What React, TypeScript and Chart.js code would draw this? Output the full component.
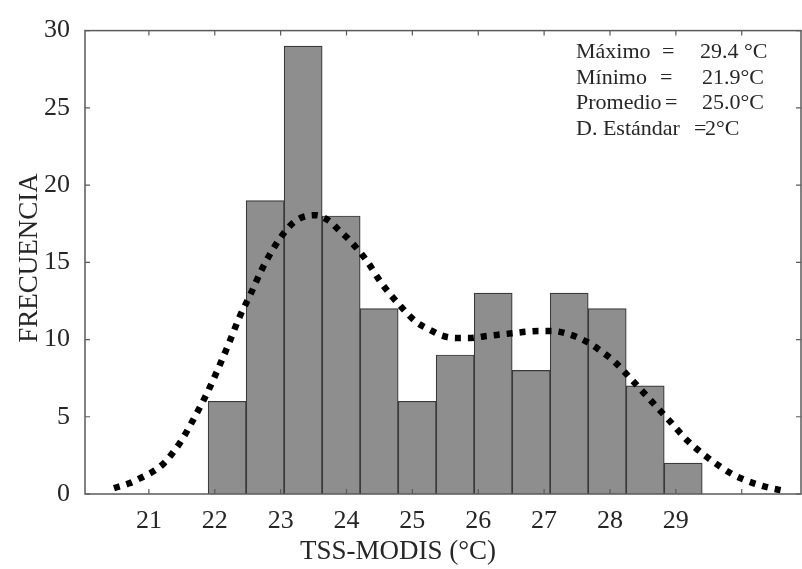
import React, { useEffect, useRef } from "react";
import { Chart, registerables } from "chart.js";

Chart.register(...registerables);

// Histogram bins (°C) and counts
const binCenters = [22.188, 22.765, 23.342, 23.919, 24.496, 25.073, 25.65, 26.227, 26.804, 27.381, 27.958, 28.535, 29.112];
const frequencies = [6, 19, 29, 18, 12, 6, 9, 13, 8, 13, 12, 7, 2];

// Fitted density curve
const curveX = [20.47, 20.7, 20.89, 21.08, 21.23, 21.38, 21.5, 21.71, 21.88, 22.06, 22.21, 22.37, 22.55, 22.71, 22.92, 23.15, 23.32, 23.53, 23.73, 23.88, 24.03, 24.29, 24.54, 24.79, 25.07, 25.28, 25.45, 25.67, 25.89, 26.08, 26.28, 26.51, 26.72, 26.92, 27.12, 27.33, 27.53, 27.71, 27.88, 28.06, 28.33, 28.63, 28.89, 29.19, 29.5, 29.85, 30.03, 30.23, 30.44, 30.59];
const curveY = [0.38, 0.69, 1.07, 1.5, 2.0, 2.77, 3.5, 5.1, 6.5, 8.2, 9.7, 11.4, 13.0, 14.5, 16.1, 17.4, 17.9, 18.05, 17.7, 17.1, 16.5, 15.2, 13.6, 12.3, 11.1, 10.6, 10.25, 10.1, 10.1, 10.2, 10.3, 10.4, 10.5, 10.55, 10.55, 10.4, 10.1, 9.7, 9.2, 8.6, 7.4, 6.0, 4.8, 3.4, 2.3, 1.3, 0.94, 0.63, 0.38, 0.25];

const xTickValues = [21, 22, 23, 24, 25, 26, 27, 28, 29];
const xInnerTicks = [21, 22, 23, 24, 25, 26, 27, 28, 29, 30];
const yTickValues = [0, 5, 10, 15, 20, 25, 30];

const statLabels = ["Máximo", "Mínimo", "Promedio", "D. Estándar"];
const statEquals = ["=", "=", "=", "="];
const statValues = ["29.4 °C", "21.9°C", "25.0°C", "2°C"];

const xTitle = "TSS-MODIS (°C)";
const yTitle = "FRECUENCIA";

const FONT = "'Liberation Serif', 'Times New Roman', serif";
const TEXT = "#262626";

const framePlugin = {
  id: "frame",
  afterDraw(chart: any) {
    const { ctx, chartArea } = chart;
    const { left, right, top, bottom } = chartArea;
    const xs = chart.scales.x;
    const ys = chart.scales.y;
    ctx.save();
    ctx.strokeStyle = "#5a5a5a";
    ctx.lineWidth = 1.5;
    ctx.strokeRect(left, top, right - left, bottom - top);
    ctx.lineWidth = 1.2;
    ctx.beginPath();
    xInnerTicks.forEach((v) => {
      const px = xs.getPixelForValue(v);
      ctx.moveTo(px, bottom);
      ctx.lineTo(px, bottom - 5);
      ctx.moveTo(px, top);
      ctx.lineTo(px, top + 5);
    });
    yTickValues.forEach((v) => {
      const py = ys.getPixelForValue(v);
      ctx.moveTo(left, py);
      ctx.lineTo(left + 5, py);
      ctx.moveTo(right, py);
      ctx.lineTo(right - 5, py);
    });
    ctx.stroke();

    // axis titles
    ctx.fillStyle = TEXT;
    ctx.font = `27px ${FONT}`;
    ctx.textAlign = "center";
    ctx.textBaseline = "alphabetic";
    ctx.fillText(xTitle, 398, 559);
    ctx.save();
    ctx.translate(37, 258);
    ctx.rotate(-Math.PI / 2);
    ctx.fillText(yTitle, 0, 0);
    ctx.restore();

    // statistics box
    ctx.font = `22px ${FONT}`;
    ctx.textAlign = "left";
    const baselines = [58, 84, 109, 135];
    const eqX = [662, 660, 665, 694];
    const valX = [700, 702, 702, 705];
    statLabels.forEach((lab, i) => {
      ctx.fillText(lab, 576, baselines[i]);
      ctx.fillText(statEquals[i], eqX[i], baselines[i]);
      ctx.fillText(statValues[i], valX[i], baselines[i]);
    });
    ctx.restore();
  },
};

export default function App() {
  const ref = useRef<HTMLCanvasElement | null>(null);
  useEffect(() => {
    if (!ref.current) return;
    const chart = new Chart(ref.current, {
      type: "bar",
      data: {
        datasets: [
          {
            type: "line",
            data: curveX.map((x, i) => ({ x, y: curveY[i] })),
            borderColor: "#000",
            borderWidth: 6.5,
            borderDash: [6, 7],
            borderCapStyle: "butt",
            pointRadius: 0,
            fill: false,
            cubicInterpolationMode: "monotone",
            order: 0,
          } as any,
          {
            type: "bar",
            data: binCenters.map((x, i) => ({ x, y: frequencies[i] })),
            backgroundColor: "#8e8e8e",
            borderColor: "#3a3a3a",
            borderWidth: 1.2,
            barPercentage: 1,
            categoryPercentage: 1,
            order: 1,
          } as any,
        ],
      },
      options: {
        responsive: false,
        animation: false,
        layout: { padding: { top: 17, right: 1, left: 0, bottom: 0 } },
        plugins: { legend: { display: false }, tooltip: { enabled: false } },
        scales: {
          x: {
            type: "linear",
            offset: false,
            min: 20.03,
            max: 30.9,
            grid: { display: false, drawTicks: false },
            border: { display: false },
            afterBuildTicks: (s: any) => {
              s.ticks = xTickValues.map((v) => ({ value: v }));
            },
            afterFit: (s: any) => {
              s.height = 75;
            },
            ticks: {
              autoSkip: false,
              maxRotation: 0,
              padding: 12,
              color: TEXT,
              font: { family: FONT, size: 26 },
              callback: (v: any) => String(v),
            },
          },
          y: {
            type: "linear",
            min: 0,
            max: 30,
            grid: { display: false, drawTicks: false },
            border: { display: false },
            afterBuildTicks: (s: any) => {
              s.ticks = yTickValues.map((v) => ({ value: v }));
            },
            afterFit: (s: any) => {
              s.width = 85;
            },
            ticks: {
              padding: 15,
              color: TEXT,
              font: { family: FONT, size: 26 },
            },
          },
        },
      },
      plugins: [framePlugin],
    });
    return () => chart.destroy();
  }, []);
  return (
    <div style={{ position: "absolute", left: 0, top: 0, width: 802, height: 569, background: "#fff" }}>
      <canvas ref={ref} width={802} height={569} style={{ display: "block" }} />
    </div>
  );
}
